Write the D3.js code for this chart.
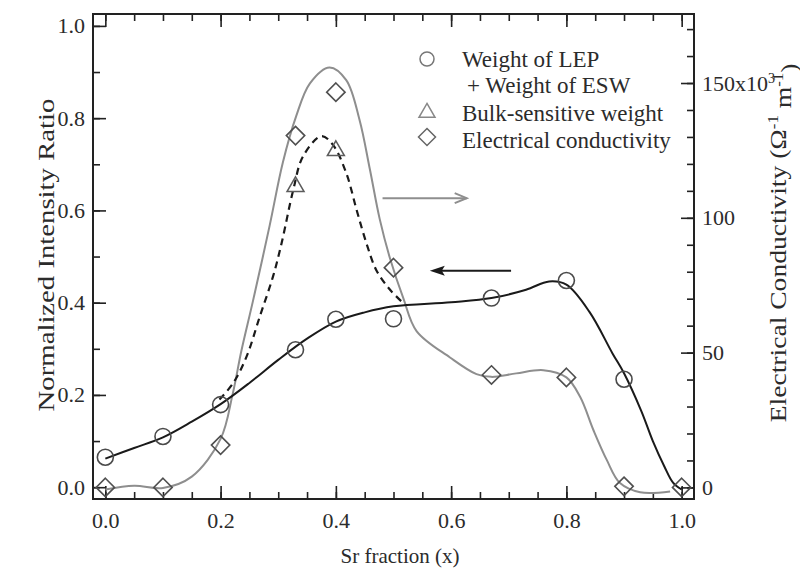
<!DOCTYPE html>
<html>
<head>
<meta charset="utf-8">
<script src="https://cdn.jsdelivr.net/npm/d3@7"></script>
<style>
  body { margin: 0; background: #fff; }
  text { font-family: "Liberation Serif", "Times New Roman", serif; fill: #2b2b2b; }
</style>
</head>
<body>
<svg id="chart" width="800" height="586"></svg>
<script>
// measured points
var srFraction   = [0, 0.1, 0.2, 0.33, 0.4, 0.5, 0.67, 0.8, 0.9];
var weightLepEsw = [0.065, 0.110, 0.179, 0.298, 0.364, 0.365, 0.410, 0.448, 0.234];
var condFraction = [0, 0.1, 0.2, 0.33, 0.4, 0.5, 0.67, 0.8, 0.9, 1.0];
var conductivity = [0, 0, 15.7, 130.5, 146.6, 81.5, 41.7, 40.8, 0.4, 0];   // x10^3
var bulkFraction = [0.33, 0.4];
var bulkWeight   = [0.653, 0.731];

// guide curves
var fitWeightX = [0, 0.05, 0.1, 0.15, 0.2, 0.25, 0.3, 0.35, 0.4, 0.45, 0.5, 0.6, 0.67, 0.73, 0.77, 0.8, 0.84, 0.88, 0.9, 0.93, 0.95, 0.97, 0.985, 1.0];
var fitWeight  = [0.062, 0.085, 0.108, 0.142, 0.180, 0.226, 0.276, 0.322, 0.359, 0.379, 0.392, 0.401, 0.410, 0.428, 0.446, 0.439, 0.380, 0.290, 0.247, 0.165, 0.100, 0.045, 0.010, -0.005];
var fitCondX = [0, 0.05, 0.1, 0.15, 0.2, 0.221, 0.236, 0.256, 0.285, 0.308, 0.331, 0.355, 0.389, 0.418, 0.441, 0.459, 0.476, 0.494, 0.517, 0.54, 0.598, 0.644, 0.67, 0.713, 0.76, 0.8, 0.824, 0.847, 0.87, 0.893, 0.928, 0.98];
var fitCond  = [-0.8, 0.6, -0.2, 4, 18, 34.7, 50.6, 69, 97, 120.5, 137.6, 149.9, 155.8, 151.1, 136.4, 118, 99.6, 84.9, 70.2, 58, 48.2, 42, 41, 42.3, 43.5, 40.8, 33.5, 21.2, 10.2, 1.6, -1.8, -1.5];
var fitBulkX = [0.198, 0.222, 0.245, 0.268, 0.291, 0.306, 0.326, 0.343, 0.375, 0.395, 0.418, 0.436, 0.453, 0.47, 0.494, 0.517];
var fitBulk  = [0.19, 0.226, 0.283, 0.37, 0.457, 0.530, 0.644, 0.717, 0.761, 0.742, 0.681, 0.601, 0.529, 0.471, 0.428, 0.399];

var xTicks = [0, 0.2, 0.4, 0.6, 0.8, 1.0];
var yTicks = [0, 0.2, 0.4, 0.6, 0.8, 1.0];
var condTicks = [0, 50, 100, 150];

var svg = d3.select("#chart");
var pLeft = 93, pRight = 694, pTop = 14, pBottom = 499;

var x = d3.scaleLinear().domain([-0.0214, 1.0214]).range([pLeft, pRight]);
var y = d3.scaleLinear().domain([-0.0256, 1.0258]).range([pBottom, pTop]);
var yR = d3.scaleLinear().domain([-4.3, 175.6]).range([pBottom, pTop]);

function tidy(g) { g.select(".domain").remove(); g.selectAll("line").attr("stroke", "#222").attr("stroke-width", 1.6); }

// minor ticks
svg.append("g").attr("transform", "translate(0," + pBottom + ")")
  .call(d3.axisBottom(x).tickValues(d3.range(0, 1.001, 0.05)).tickSize(-7).tickFormat("")).call(tidy);
svg.append("g").attr("transform", "translate(0," + pTop + ")")
  .call(d3.axisTop(x).tickValues(d3.range(0, 1.001, 0.05)).tickSize(-7).tickFormat("")).call(tidy);
svg.append("g").attr("transform", "translate(" + pLeft + ",0)")
  .call(d3.axisLeft(y).tickValues(d3.range(0, 1.001, 0.1)).tickSize(-7).tickFormat("")).call(tidy);
svg.append("g").attr("transform", "translate(" + pRight + ",0)")
  .call(d3.axisRight(yR).tickValues(d3.range(0, 171, 10)).tickSize(-7).tickFormat("")).call(tidy);

// major ticks + labels
var fs = 22;
svg.append("g").attr("transform", "translate(0," + pBottom + ")")
  .call(d3.axisBottom(x).tickValues(xTicks).tickSize(-13).tickPadding(13).tickFormat(d3.format(".1f"))).call(tidy)
  .selectAll("text").style("font-size", fs + "px");
svg.append("g").attr("transform", "translate(0," + pTop + ")")
  .call(d3.axisTop(x).tickValues(xTicks).tickSize(-13).tickFormat("")).call(tidy);
svg.append("g").attr("transform", "translate(" + pLeft + ",0)")
  .call(d3.axisLeft(y).tickValues(yTicks).tickSize(-13).tickPadding(8).tickFormat(d3.format(".1f"))).call(tidy)
  .selectAll("text").style("font-size", fs + "px");
var rAx = svg.append("g").attr("transform", "translate(" + pRight + ",0)")
  .call(d3.axisRight(yR).tickValues(condTicks).tickSize(-13).tickPadding(8).tickFormat(function(d) { return d === 150 ? "150x10" : d; })).call(tidy);
rAx.selectAll("text").style("font-size", fs + "px");
rAx.selectAll("text").filter(function(d) { return d === 150; })
  .append("tspan").attr("dy", "-0.55em").style("font-size", "14px").text("3");

// frame
svg.append("rect").attr("x", pLeft).attr("y", pTop).attr("width", pRight - pLeft).attr("height", pBottom - pTop)
  .attr("fill", "none").attr("stroke", "#222").attr("stroke-width", 2);

// curves
var line = d3.line().curve(d3.curveCatmullRom.alpha(0.5));
svg.append("path")
  .attr("d", line(fitCondX.map(function(v, i) { return [x(v), yR(fitCond[i])]; })))
  .attr("fill", "none").attr("stroke", "#8e8e8e").attr("stroke-width", 2);
svg.append("path")
  .attr("d", line(fitBulkX.map(function(v, i) { return [x(v), y(fitBulk[i])]; })))
  .attr("fill", "none").attr("stroke", "#1a1a1a").attr("stroke-width", 2.2).attr("stroke-dasharray", "7,5");
svg.append("path")
  .attr("d", line(fitWeightX.map(function(v, i) { return [x(v), y(fitWeight[i])]; })))
  .attr("fill", "none").attr("stroke", "#1a1a1a").attr("stroke-width", 2);

// markers
var circ = d3.symbol().type(d3.symbolCircle).size(Math.PI * 8 * 8);
svg.selectAll(".circ").data(srFraction).enter().append("path").attr("class", "circ")
  .attr("d", circ).attr("transform", function(d, i) { return "translate(" + x(d) + "," + y(weightLepEsw[i]) + ")"; })
  .attr("fill", "none").attr("stroke", "#4a4a4a").attr("stroke-width", 1.6);

function diamondPath(r) { return "M0," + (-r) + "L" + r + ",0L0," + r + "L" + (-r) + ",0Z"; }
svg.selectAll(".diam").data(condFraction).enter().append("path").attr("class", "diam")
  .attr("d", diamondPath(9.2)).attr("transform", function(d, i) { return "translate(" + x(d) + "," + yR(conductivity[i]) + ")"; })
  .attr("fill", "none").attr("stroke", "#4f4f4f").attr("stroke-width", 1.6);

function triPath(s) { var h = s * 0.866; return "M0," + (-h * 0.62) + "L" + (s / 2) + "," + (h * 0.38) + "L" + (-s / 2) + "," + (h * 0.38) + "Z"; }
svg.selectAll(".tri").data(bulkFraction).enter().append("path").attr("class", "tri")
  .attr("d", triPath(17)).attr("transform", function(d, i) { return "translate(" + x(d) + "," + y(bulkWeight[i]) + ")"; })
  .attr("fill", "none").attr("stroke", "#5c5c5c").attr("stroke-width", 1.5);

// arrows pointing at the axes
var grayArrow = { x0: 0.481, x1: 0.627, v: 0.6265 };
var blackArrow = { x0: 0.704, x1: 0.563, v: 0.469 };
var ga = svg.append("g").attr("stroke", "#8e8e8e").attr("stroke-width", 2).attr("fill", "none");
ga.append("line").attr("x1", x(grayArrow.x0)).attr("x2", x(grayArrow.x1)).attr("y1", y(grayArrow.v)).attr("y2", y(grayArrow.v));
ga.append("path").attr("d", "M" + (x(grayArrow.x1) - 12) + "," + (y(grayArrow.v) - 5) + "L" + x(grayArrow.x1) + "," + y(grayArrow.v) + "L" + (x(grayArrow.x1) - 12) + "," + (y(grayArrow.v) + 5));
var ba = svg.append("g");
ba.append("line").attr("x1", x(blackArrow.x0)).attr("x2", x(blackArrow.x1) + 6).attr("y1", y(blackArrow.v)).attr("y2", y(blackArrow.v))
  .attr("stroke", "#1a1a1a").attr("stroke-width", 2);
ba.append("path").attr("d", "M" + x(blackArrow.x1) + "," + y(blackArrow.v) + "L" + (x(blackArrow.x1) + 15) + "," + (y(blackArrow.v) - 5) + "L" + (x(blackArrow.x1) + 12) + "," + y(blackArrow.v) + "L" + (x(blackArrow.x1) + 15) + "," + (y(blackArrow.v) + 5) + "Z")
  .attr("fill", "#1a1a1a");

// legend
var lfs = 23;
var lg = svg.append("g").attr("transform", "translate(427,0)");
lg.append("circle").attr("cx", 0).attr("cy", 59).attr("r", 7).attr("fill", "none").attr("stroke", "#777").attr("stroke-width", 1.5);
lg.append("path").attr("d", triPath(16)).attr("transform", "translate(0,112)").attr("fill", "none").attr("stroke", "#888").attr("stroke-width", 1.5);
lg.append("path").attr("d", diamondPath(8.5)).attr("transform", "translate(0,137)").attr("fill", "none").attr("stroke", "#666").attr("stroke-width", 1.5);
var legTexts = [["Weight of LEP", 35, 67], ["+ Weight of ESW", 40, 93], ["Bulk-sensitive weight", 35, 121], ["Electrical conductivity", 35, 148]];
legTexts.forEach(function(t) {
  lg.append("text").attr("x", t[1]).attr("y", t[2]).style("font-size", lfs + "px").text(t[0]);
});

// axis titles
svg.append("text").attr("x", 400).attr("y", 563).attr("text-anchor", "middle").style("font-size", "21px").text("Sr fraction (x)");
svg.append("text").attr("transform", "translate(54,255) rotate(-90) scale(1.25,1)").attr("text-anchor", "middle").style("font-size", "23px").text("Normalized Intensity Ratio");
var rt = svg.append("text").attr("transform", "translate(786,243) rotate(-90) scale(1.2,1)").attr("text-anchor", "middle").style("font-size", "23px");
rt.append("tspan").text("Electrical Conductivity (\u03A9");
rt.append("tspan").attr("dy", "-0.6em").style("font-size", "14px").text("-1");
rt.append("tspan").attr("dy", "0.6em").text(" m");
rt.append("tspan").attr("dy", "-0.6em").style("font-size", "14px").text("-1");
rt.append("tspan").attr("dy", "0.6em").text(")");
</script>
</body>
</html>
